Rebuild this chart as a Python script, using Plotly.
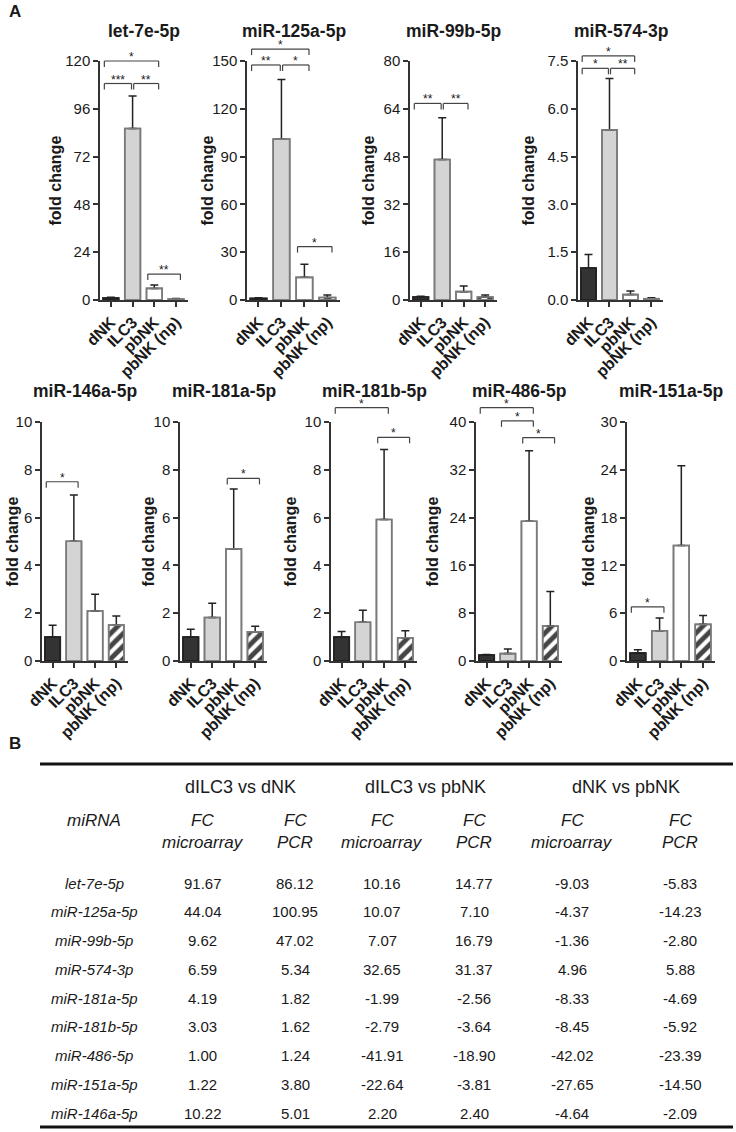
import plotly.graph_objects as go

W, H = 736, 1132
FONT = "Liberation Sans, Arial, sans-serif"
INK = "#1a1a1a"

groups = ["dNK", "ILC3", "pbNK", "pbNK (np)"]

mirnas = ["let-7e-5p", "miR-125a-5p", "miR-99b-5p", "miR-574-3p",
          "miR-146a-5p", "miR-181a-5p", "miR-181b-5p", "miR-486-5p", "miR-151a-5p"]

# mean fold change per group (dNK, ILC3, pbNK, pbNK (np))
fold_change = [
    [1.00, 86.12, 5.83, 0.50],
    [1.00, 100.95, 14.23, 1.60],
    [1.00, 47.02, 2.80, 1.00],
    [1.00, 5.34, 0.17, 0.04],
    [1.00, 5.01, 2.09, 1.50],
    [1.00, 1.82, 4.69, 1.22],
    [1.00, 1.62, 5.92, 0.97],
    [1.00, 1.24, 23.39, 5.85],
    [1.00, 3.80, 14.50, 4.60],
]
# upper error (SEM)
sem = [
    [0.35, 16.3, 1.7, 0.25],
    [0.35, 37.5, 8.2, 1.5],
    [0.25, 14.0, 1.9, 0.7],
    [0.43, 1.61, 0.11, 0.03],
    [0.50, 1.94, 0.70, 0.38],
    [0.33, 0.60, 2.51, 0.23],
    [0.23, 0.50, 2.93, 0.30],
    [0.10, 0.75, 11.8, 5.8],
    [0.40, 1.60, 10.0, 1.1],
]
y_max = [120, 150, 80, 7.5, 10, 10, 10, 40, 30]
y_step = [24, 30, 16, 1.5, 2, 2, 2, 8, 6]

# significance brackets: (group a, group b, height, label)
brackets = [
    [(0, 2, 120, "*"), (0, 1, 108.7, "***"), (1, 2, 108.7, "**"), (2, 3, 13, "**")],
    [(0, 2, 157.5, "*"), (0, 1, 147.5, "**"), (1, 2, 147.5, "*"), (2, 3, 33.5, "*")],
    [(0, 1, 65.8, "**"), (1, 2, 65.8, "**")],
    [(0, 2, 7.66, "*"), (0, 1, 7.27, "*"), (1, 2, 7.27, "**")],
    [(0, 1, 7.5, "*")],
    [(2, 3, 7.64, "*")],
    [(0, 2, 10.6, "*"), (2, 3, 9.36, "*")],
    [(0, 2, 42.4, "*"), (1, 2, 40.2, "*"), (2, 3, 37.4, "*")],
    [(0, 1, 6.8, "*")],
]

# table B
table_mirna = ["let-7e-5p", "miR-125a-5p", "miR-99b-5p", "miR-574-3p", "miR-181a-5p",
               "miR-181b-5p", "miR-486-5p", "miR-151a-5p", "miR-146a-5p"]
ilc3_vs_dnk_array = [91.67, 44.04, 9.62, 6.59, 4.19, 3.03, 1.00, 1.22, 10.22]
ilc3_vs_dnk_pcr = [86.12, 100.95, 47.02, 5.34, 1.82, 1.62, 1.24, 3.80, 5.01]
ilc3_vs_pbnk_array = [10.16, 10.07, 7.07, 32.65, -1.99, -2.79, -41.91, -22.64, 2.20]
ilc3_vs_pbnk_pcr = [14.77, 7.10, 16.79, 31.37, -2.56, -3.64, -18.90, -3.81, 2.40]
dnk_vs_pbnk_array = [-9.03, -4.37, -1.36, 4.96, -8.33, -8.45, -42.02, -27.65, -4.64]
dnk_vs_pbnk_pcr = [-5.83, -14.23, -2.80, 5.88, -4.69, -5.92, -23.39, -14.50, -2.09]
comparisons = ["dILC3 vs dNK", "dILC3 vs pbNK", "dNK vs pbNK"]

# ---- layout in pixels ----
rows_px = [(61, 300)] * 4 + [(422, 661)] * 5
left_px = [100, 247, 410, 578, 42, 180, 331, 476, 627]
right_px = [188, 340, 497, 663, 128, 267, 417, 562, 715]
ylab_px = [55, 207, 368, 528, 12, 148, 290, 432, 588]
title_py = [31] * 4 + [391] * 5
XR = [-0.5, 3.55]

fill = ["#333333", "#d4d4d4", "#ffffff", "#ffffff"]
edge = ["#222222", "#7a7a7a", "#7a7a7a", "#7a7a7a"]
hatch = ["", "", "", "/"]


def px(x):
    return x / W


def py(y):
    return 1 - y / H


def label(x, y, text, size, **kw):
    # centred text placed in page pixels
    d = dict(xref="paper", yref="paper", x=px(x), y=py(y), text=text, showarrow=False,
             xanchor="center", yanchor="middle", font=dict(size=size, color=INK))
    d.update(kw)
    return d


fig = go.Figure()
layout = dict(width=W, height=H, margin=dict(l=0, r=0, t=0, b=0, pad=0, autoexpand=False),
              plot_bgcolor="white", paper_bgcolor="white", showlegend=False,
              barmode="overlay", font=dict(family=FONT, color=INK))
shapes, annotations = [], []

for k, name in enumerate(mirnas):
    n = "" if k == 0 else str(k + 1)
    xa, ya = "x" + n, "y" + n
    cats = list(range(len(groups)))
    fig.add_trace(go.Bar(
        x=cats, y=fold_change[k], xaxis=xa, yaxis=ya, width=0.72,
        marker=dict(color=fill, line=dict(color=edge, width=1.6),
                    pattern=dict(shape=hatch, fgcolor="#000000", bgcolor="#ffffff",
                                 size=9, solidity=0.55, fgopacity=1)),
        error_y=dict(type="data", array=sem[k], arrayminus=[0] * 4, symmetric=False,
                     color="#222222", thickness=1.5, width=4),
    ))
    # outline again on top so the error bar foot is hidden
    fig.add_trace(go.Bar(
        x=cats, y=fold_change[k], xaxis=xa, yaxis=ya, width=0.72,
        marker=dict(color="rgba(0,0,0,0)", line=dict(color=edge, width=1.6)),
        hoverinfo="skip",
    ))
    top, bot = rows_px[k]
    axis_style = dict(showline=True, linecolor="#333333", linewidth=1.5, ticks="outside",
                      ticklen=5, tickwidth=1.5, tickcolor="#333333", showgrid=False,
                      zeroline=False, automargin=False)
    layout["xaxis" + n] = dict(
        domain=[px(left_px[k]), px(right_px[k])], anchor=ya, range=XR,
        tickvals=cats, ticktext=["<b>%s</b>" % g for g in groups], tickangle=-45,
        tickfont=dict(size=16, color=INK), **axis_style)
    layout["yaxis" + n] = dict(
        domain=[py(bot), py(top)], anchor=xa, range=[0, y_max[k]], tick0=0, dtick=y_step[k],
        tickformat=".1f" if y_max[k] < 10 else "", tickfont=dict(size=15, color=INK),
        **axis_style)

    annotations.append(dict(xref=xa + " domain", yref="paper", x=0.5, y=py(title_py[k]),
                            xanchor="center", yanchor="middle",
                            text="<b>%s</b>" % name, showarrow=False,
                            font=dict(size=17.5, color=INK)))
    annotations.append(label(ylab_px[k], (top + bot) / 2, "<b>fold change</b>", 16,
                             textangle=-90))

    # significance brackets
    tick = 6 / (bot - top)
    for (a, b, h, lab) in brackets[k]:
        x0 = a - 0.3
        x1 = b + 0.2
        for (a2, b2, h2, _) in brackets[k]:
            if h2 == h and a2 == b:
                x1 = b - 0.05
            if h2 == h and b2 == a:
                x0 = a + 0.05
        d0 = (x0 - XR[0]) / (XR[1] - XR[0])
        d1 = (x1 - XR[0]) / (XR[1] - XR[0])
        yy = h / y_max[k]
        line = dict(color="#444444", width=1.2)
        ref = dict(xref=xa + " domain", yref=ya + " domain", type="line", line=line)
        shapes.append(dict(x0=d0, x1=d1, y0=yy, y1=yy, **ref))
        shapes.append(dict(x0=d0, x1=d0, y0=yy, y1=yy - tick, **ref))
        shapes.append(dict(x0=d1, x1=d1, y0=yy, y1=yy - tick, **ref))
        annotations.append(dict(xref=xa + " domain", yref=ya + " domain",
                                x=(d0 + d1) / 2, y=yy, xanchor="center", yanchor="bottom",
                                yshift=-5, text=lab, showarrow=False,
                                font=dict(size=12, color=INK)))

# panel letters
annotations.append(label(15, 12, "<b>A</b>", 17))
annotations.append(label(15, 743, "<b>B</b>", 17))

# ---- table B ----
col_x = [94, 203, 295, 382, 474, 572, 680]
group_x = [240, 425, 626]
row_y0, row_dy = 883, 28.75
for gx, lab in zip(group_x, comparisons):
    annotations.append(label(gx, 787, lab, 18))
annotations.append(label(col_x[0], 820, "<i>miRNA</i>", 17))
for c in range(6):
    annotations.append(label(col_x[c + 1], 820, "<i>FC</i>", 17))
    annotations.append(label(col_x[c + 1], 842,
                             "<i>%s</i>" % ("microarray" if c % 2 == 0 else "PCR"), 17))

columns = [ilc3_vs_dnk_array, ilc3_vs_dnk_pcr, ilc3_vs_pbnk_array,
           ilc3_vs_pbnk_pcr, dnk_vs_pbnk_array, dnk_vs_pbnk_pcr]
for r, mi in enumerate(table_mirna):
    ry = row_y0 + r * row_dy
    annotations.append(label(col_x[0], ry, "<i>%s</i>" % mi, 15))
    for c, col in enumerate(columns):
        annotations.append(label(col_x[c + 1], ry, "%.2f" % col[r], 15))

for ly in [764, 1127]:
    shapes.append(dict(type="line", xref="paper", yref="paper", x0=px(40), x1=px(733),
                       y0=py(ly), y1=py(ly), line=dict(color="#111111", width=3)))

layout["shapes"] = shapes
layout["annotations"] = annotations
fig.update_layout(**layout)
fig.write_html("out.html", config={"displayModeBar": False},
               post_script="document.body.style.margin='0px';")
